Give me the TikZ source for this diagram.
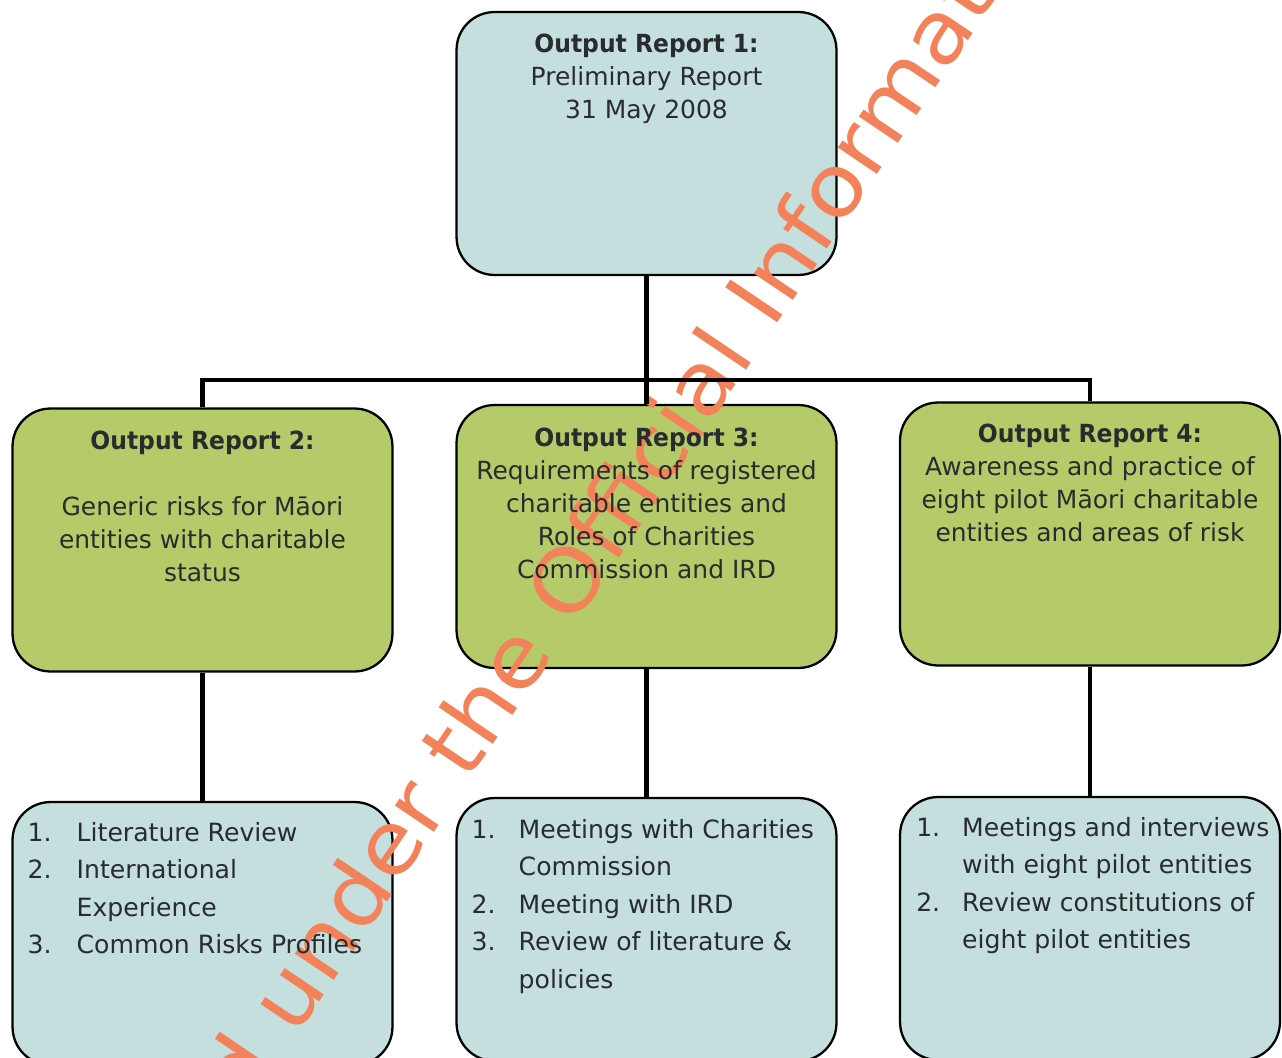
\documentclass[tikz,border=0pt]{standalone}
\usepackage{fontspec}
\setmainfont{DejaVu Sans}[BoldFeatures={FakeStretch=0.94}]
\newfontfamily\stampfont{DejaVu Sans}[FakeStretch=1.1]
\usetikzlibrary{positioning}

\definecolor{taskblue}{RGB}{197,222,222}
\definecolor{outgreen}{RGB}{181,202,104}
\definecolor{ink}{RGB}{40,44,46}
\definecolor{stamp}{RGB}{243,130,90}

\begin{document}
\begin{tikzpicture}[
            x=0.02cm, y=-0.02cm,
            report/.style={draw=black, line width=1.3pt, rounded corners=0.76cm, minimum width=7.6cm, minimum height=5.26cm, inner sep=0pt},
            task/.style={report, fill=taskblue},
            output/.style={report, fill=outgreen},
            head/.style={inner sep=0pt, text=ink, font=\fontsize{14.2}{18.8}\selectfont},
            steps/.style={inner sep=0pt, text=ink, font=\fontsize{14.3}{21.3}\selectfont},
            link/.style={line width=2.8pt},
            stampmark/.style={inner sep=0pt, text=stamp, rotate=56, font=\stampfont\fontsize{49}{60}\selectfont}
        ]
            \useasboundingbox (0,0) rectangle (1282,1058);

            % Top report
            \node[task] (report1) at (646.5,143.5) {};

            % Second row
            \node[output] (report2) at (202.5,540) {};
            \node[output] (report3) at (646.5,536.5) {};
            \node[output] (report4) at (1090,534) {};

            % Third row
            \node[task] (work2) at (202.5,933.5) {};
            \node[task] (work3) at (646.5,929.5) {};
            \node[task] (work4) at (1090,928.5) {};

            % Stamp over the page
            \node[stampmark, anchor=base west] (stampB) at (571.8,628.3) {Official Information Act};
            \node[stampmark, anchor=base east] (stampA) at (555,653.2) {Released under the};

            % Texts
            \node[head, below=0.36cm of report1.north] (report1text) {\begin{tabular}{@{}c@{}}\textbf{Output Report 1:}\\Preliminary Report\\31 May 2008\end{tabular}};
            \node[head, below=0.38cm of report2.north] (report2text) {\begin{tabular}{@{}c@{}}\textbf{Output Report 2:}\\ \\Generic risks for Māori\\entities with charitable\\status\end{tabular}};
            \node[head, below=0.38cm of report3.north] (report3text) {\begin{tabular}{@{}c@{}}\textbf{Output Report 3:}\\Requirements of registered\\charitable entities and\\Roles of Charities\\Commission and IRD\end{tabular}};
            \node[head, below=0.36cm of report4.north] (report4text) {\begin{tabular}{@{}c@{}}\textbf{Output Report 4:}\\Awareness and practice of\\eight pilot Māori charitable\\entities and areas of risk\end{tabular}};

            \node[steps, below right=0.28cm and 0.32cm of work2.north west] (work2text) {\begin{tabular}{@{}p{0.98cm}@{}l@{}}1. & Literature Review\\2. & International\\ & Experience\\3. & Common Risks Profiles\end{tabular}};
            \node[steps, below right=0.30cm and 0.32cm of work3.north west] (work3text) {\begin{tabular}{@{}p{0.94cm}@{}l@{}}1. & Meetings with Charities\\ & Commission\\2. & Meeting with IRD\\3. & Review of literature \&\\ & policies\end{tabular}};
            \node[steps, below right=0.28cm and 0.34cm of work4.north west] (work4text) {\begin{tabular}{@{}p{0.92cm}@{}l@{}}1. & Meetings and interviews\\ & with eight pilot entities\\2. & Review constitutions of\\ & eight pilot entities\end{tabular}};

            % Connectors
            \coordinate (split) at (646.5,380);
            \draw[link] (report1.south) -- (split);
            \draw[link] (report2.north) |- (split) -| (report4.north);
            \draw[link] (split) -- (report3.north);
            \draw[link] (report2.south) -- (work2.north);
            \draw[link] (report3.south) -- (work3.north);
            \draw[link] (report4.south) -- (work4.north);

        \end{tikzpicture}
\end{document}
